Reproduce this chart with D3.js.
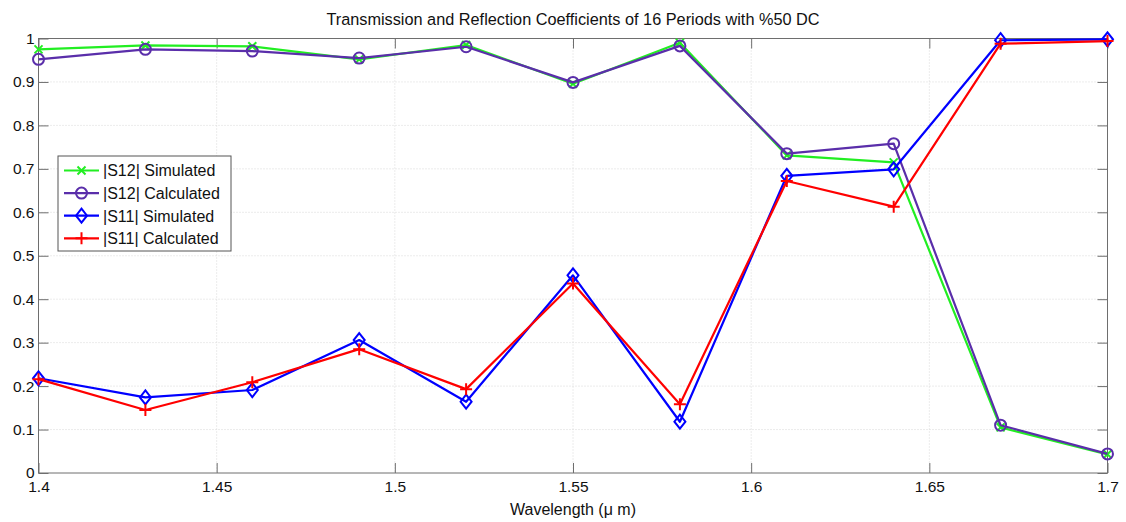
<!DOCTYPE html>
<html>
<head>
<meta charset="utf-8">
<script src="https://cdn.jsdelivr.net/npm/d3@7"></script>
<style>
  body { margin: 0; background: #fff; }
  svg { font-family: "Liberation Sans", Arial, sans-serif; }
  .grid line { stroke: #d8d8d8; stroke-dasharray: 1,2; }
  .axis path, .axis line { stroke: #6e6e6e; }
  .axis text { font-size: 15.5px; fill: #111; }
</style>
</head>
<body>
<div id="root"></div>
<script>
var wavelength = [1.40, 1.43, 1.46, 1.49, 1.52, 1.55, 1.58, 1.61, 1.64, 1.67, 1.70];
var s12Simulated = [0.975, 0.984, 0.982, 0.952, 0.985, 0.896, 0.990, 0.731, 0.715, 0.105, 0.043];
var s12Calculated = [0.952, 0.975, 0.971, 0.955, 0.981, 0.899, 0.983, 0.735, 0.758, 0.110, 0.044];
var s11Simulated = [0.218, 0.174, 0.191, 0.306, 0.164, 0.455, 0.118, 0.684, 0.699, 0.996, 0.998];
var s11Calculated = [0.216, 0.145, 0.209, 0.285, 0.193, 0.436, 0.158, 0.672, 0.613, 0.988, 0.994];
var xTicks = [1.4, 1.45, 1.5, 1.55, 1.6, 1.65, 1.7];
var yTicks = [0, 0.1, 0.2, 0.3, 0.4, 0.5, 0.6, 0.7, 0.8, 0.9, 1];

var series = [
  { name: '|S12| Simulated', values: s12Simulated, color: '#22ee22', marker: 'x' },
  { name: '|S12| Calculated', values: s12Calculated, color: '#5a2eaa', marker: 'o' },
  { name: '|S11| Simulated', values: s11Simulated, color: '#0000ff', marker: 'd' },
  { name: '|S11| Calculated', values: s11Calculated, color: '#ff0000', marker: '+' }
];

var W = 1126, H = 522;
var mLeft = 38.5, mRight = 1107.5, mTop = 38.5, mBottom = 473;

var svg = d3.select('#root').append('svg').attr('width', W).attr('height', H);

var x = d3.scaleLinear().domain([1.4, 1.7]).range([mLeft, mRight]);
var y = d3.scaleLinear().domain([0, 1]).range([mBottom, mTop]);

// grid
var grid = svg.append('g').attr('class', 'grid');
grid.selectAll('line.gx').data(xTicks.slice(1, -1)).enter().append('line')
  .attr('x1', function (d) { return x(d); }).attr('x2', function (d) { return x(d); })
  .attr('y1', mTop).attr('y2', mBottom);
grid.selectAll('line.gy').data(yTicks.slice(1, -1)).enter().append('line')
  .attr('y1', function (d) { return y(d); }).attr('y2', function (d) { return y(d); })
  .attr('x1', mLeft).attr('x2', mRight);

// axes, ticks inside on all four sides
var fmt = function (d) { return String(+d.toFixed(2)); };
svg.append('g').attr('class', 'axis').attr('transform', 'translate(0,' + mBottom + ')')
  .call(d3.axisBottom(x).tickValues(xTicks).tickSize(-10).tickPadding(8).tickFormat(fmt))
  .call(function (g) { g.select('.domain').remove(); });
svg.append('g').attr('class', 'axis').attr('transform', 'translate(0,' + mTop + ')')
  .call(d3.axisTop(x).tickValues(xTicks).tickSize(-10).tickFormat(''))
  .call(function (g) { g.select('.domain').remove(); });
svg.append('g').attr('class', 'axis').attr('transform', 'translate(' + mLeft + ',0)')
  .call(d3.axisLeft(y).tickValues(yTicks).tickSize(-10).tickPadding(4).tickFormat(fmt))
  .call(function (g) { g.select('.domain').remove(); });
svg.append('g').attr('class', 'axis').attr('transform', 'translate(' + mRight + ',0)')
  .call(d3.axisRight(y).tickValues(yTicks).tickSize(-10).tickFormat(''))
  .call(function (g) { g.select('.domain').remove(); });

svg.append('rect')
  .attr('x', mLeft).attr('y', mTop)
  .attr('width', mRight - mLeft).attr('height', mBottom - mTop)
  .attr('fill', 'none').attr('stroke', '#6e6e6e');

// labels
svg.append('text')
  .attr('x', (mLeft + mRight) / 2).attr('y', 25)
  .attr('text-anchor', 'middle').attr('font-size', '16.3px').attr('fill', '#111')
  .text('Transmission and Reflection Coefficients of 16 Periods with %50 DC');

svg.append('text')
  .attr('x', (mLeft + mRight) / 2).attr('y', 515)
  .attr('text-anchor', 'middle').attr('font-size', '16px').attr('fill', '#111')
  .text('Wavelength (\u03bc m)');

function drawMarker(g, type, cx, cy, color) {
  if (type === 'x') {
    g.append('path').attr('d', 'M' + (cx - 4) + ',' + (cy - 4) + 'L' + (cx + 4) + ',' + (cy + 4) +
      'M' + (cx - 4) + ',' + (cy + 4) + 'L' + (cx + 4) + ',' + (cy - 4))
      .attr('stroke', color).attr('stroke-width', 2).attr('fill', 'none');
  } else if (type === 'o') {
    g.append('circle').attr('cx', cx).attr('cy', cy).attr('r', 5.5)
      .attr('stroke', color).attr('stroke-width', 2).attr('fill', 'none');
  } else if (type === 'd') {
    g.append('path').attr('d', 'M' + cx + ',' + (cy - 7) + 'L' + (cx + 5.5) + ',' + cy +
      'L' + cx + ',' + (cy + 7) + 'L' + (cx - 5.5) + ',' + cy + 'Z')
      .attr('stroke', color).attr('stroke-width', 2).attr('fill', 'none');
  } else {
    g.append('path').attr('d', 'M' + (cx - 6) + ',' + cy + 'L' + (cx + 6) + ',' + cy +
      'M' + cx + ',' + (cy - 6) + 'L' + cx + ',' + (cy + 6))
      .attr('stroke', color).attr('stroke-width', 2).attr('fill', 'none');
  }
}

var line = d3.line()
  .x(function (d, i) { return x(wavelength[i]); })
  .y(function (d) { return y(d); });

series.forEach(function (s) {
  var g = svg.append('g');
  g.append('path').datum(s.values).attr('d', line)
    .attr('fill', 'none').attr('stroke', s.color).attr('stroke-width', 2.2)
    .attr('stroke-linejoin', 'round');
  s.values.forEach(function (v, i) {
    drawMarker(g, s.marker, x(wavelength[i]), y(v), s.color);
  });
});

// legend
var legend = svg.append('g');
legend.append('rect')
  .attr('x', 58).attr('y', 156).attr('width', 173).attr('height', 95)
  .attr('fill', '#fff').attr('stroke', '#555');
series.forEach(function (s, i) {
  var ly = 170.5 + i * 22.6;
  legend.append('line').attr('x1', 64).attr('x2', 99).attr('y1', ly).attr('y2', ly)
    .attr('stroke', s.color).attr('stroke-width', 2.2);
  drawMarker(legend, s.marker, 81.5, ly, s.color);
  legend.append('text').attr('x', 103).attr('y', ly + 5.8)
    .attr('font-size', '16px').attr('fill', '#111').text(s.name);
});
</script>
</body>
</html>
